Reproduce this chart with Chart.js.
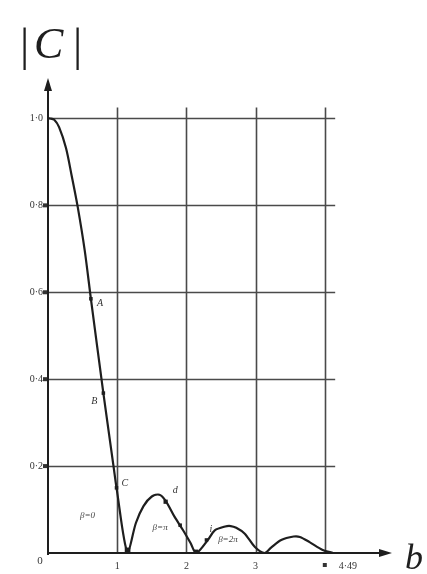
<!DOCTYPE html>
<html>
<head>
<meta charset="utf-8">
<script src="https://cdn.jsdelivr.net/npm/chart.js@4.4.1/dist/chart.umd.min.js"></script>
<style>
  html, body { margin: 0; padding: 0; background: #fff; }
  canvas { display: block; }
</style>
</head>
<body>
<canvas id="grafico" width="427" height="574"></canvas>
<script>
// curva |C| em funcao de b
const curvaB = [0, 0.03, 0.09, 0.16, 0.26, 0.34, 0.43, 0.53, 0.62, 0.80, 0.95, 0.99, 1.15,
  1.27, 1.38, 1.50, 1.61, 1.70, 1.83, 1.95, 2.06, 2.14,
  2.31, 2.41, 2.56, 2.64, 2.72, 2.84, 2.99, 3.13,
  3.22, 3.37, 3.55, 3.64, 3.78, 3.97, 4.12];
const curvaC = [1.0, 1.0, 0.997, 0.98, 0.932, 0.87, 0.796, 0.697, 0.585, 0.368, 0.196, 0.15, 0,
  0.069, 0.108, 0.13, 0.134, 0.12, 0.083, 0.053, 0.023, 0,
  0.03, 0.052, 0.061, 0.062, 0.058, 0.045, 0.014, 0,
  0.012, 0.03, 0.038, 0.037, 0.025, 0.007, 0];

// pontos marcados
const pontosB = [0.62, 0.80, 0.99, 1.15, 1.70, 1.91, 2.14, 2.29];
const pontosC = [0.585, 0.368, 0.15, 0.006, 0.118, 0.064, 0.003, 0.03];
const pontosNome = ["A", "B", "C", "", "d", "", "", "i"];

// escalas
const gradeX = [1, 2, 3, 4];
const gradeY = [0.2, 0.4, 0.6, 0.8, 1.0];
const rotulosX = ["1", "2", "3", ""];
const rotulosY = ["0·2", "0·4", "0·6", "0·8", "1·0"];

// textos das curvas
const textosB = [0.57, 1.62, 2.6];
const textosC = [0.085, 0.058, 0.03];
const textos = ["β=0", "β=π", "β=2π"];

const tinta = "#1e1e1e";
const serif = "'Liberation Serif', 'DejaVu Serif', serif";

const desenhoPapel = {
  id: "papel",
  beforeDatasetsDraw(chart) {
    const { ctx, scales: { x, y } } = chart;
    const x0 = x.getPixelForValue(0), y0 = y.getPixelForValue(0);
    ctx.save();
    // grade
    ctx.strokeStyle = "#4a4a4a";
    ctx.lineWidth = 1.6;
    gradeY.forEach(v => {
      const py = Math.round(y.getPixelForValue(v)) + 0.5;
      ctx.beginPath();
      ctx.moveTo(x0, py);
      ctx.lineTo(x.getPixelForValue(4.15), py);
      ctx.stroke();
    });
    gradeX.forEach(v => {
      const px = Math.round(x.getPixelForValue(v)) + 0.5;
      ctx.beginPath();
      ctx.moveTo(px, y0);
      ctx.lineTo(px, y.getPixelForValue(1.025));
      ctx.stroke();
    });
    // eixos
    ctx.strokeStyle = tinta;
    ctx.fillStyle = tinta;
    ctx.lineWidth = 2;
    const topo = chart.chartArea.top + 3;
    const dir = chart.chartArea.right - 2;
    ctx.beginPath();
    ctx.moveTo(x0, y0 + 2);
    ctx.lineTo(x0, topo + 8);
    ctx.moveTo(x0 - 1, y0);
    ctx.lineTo(dir - 8, y0);
    ctx.stroke();
    ctx.beginPath();
    ctx.moveTo(x0, topo);
    ctx.lineTo(x0 - 4, topo + 13);
    ctx.lineTo(x0 + 4, topo + 13);
    ctx.closePath();
    ctx.fill();
    ctx.beginPath();
    ctx.moveTo(dir, y0);
    ctx.lineTo(dir - 13, y0 - 4);
    ctx.lineTo(dir - 13, y0 + 4);
    ctx.closePath();
    ctx.fill();
    // rotulos
    ctx.font = "10px " + serif;
    ctx.fillStyle = "#333";
    ctx.textAlign = "right";
    ctx.textBaseline = "middle";
    gradeY.forEach((v, i) => {
      ctx.fillText(rotulosY[i], x0 - 5, y.getPixelForValue(v));
      if (i < 4) ctx.fillRect(x0 - 5, y.getPixelForValue(v) - 2, 4, 4);
    });
    ctx.textAlign = "center";
    ctx.textBaseline = "top";
    gradeX.forEach((v, i) => {
      ctx.fillText(rotulosX[i], x.getPixelForValue(v), y0 + 8);
    });
    ctx.font = "11px " + serif;
    ctx.fillText("0", x0 - 8, y0 + 3);
    ctx.font = "10px " + serif;
    ctx.fillRect(x.getPixelForValue(4) - 2, y0 + 10, 4, 4);
    ctx.textAlign = "left";
    ctx.fillText("4·49", x.getPixelForValue(4.2), y0 + 8);
    // titulos dos eixos
    ctx.fillStyle = tinta;
    ctx.textBaseline = "alphabetic";
    ctx.font = "46px " + serif;
    ctx.fillText("|", 20, 60);
    ctx.fillText("|", 73, 60);
    ctx.font = "italic 44px " + serif;
    ctx.fillText("C", 34, 58);
    ctx.font = "italic 36px " + serif;
    ctx.fillText("b", 405, 569);
    // textos das curvas
    ctx.font = "italic 9px " + serif;
    ctx.fillStyle = "#444";
    ctx.textAlign = "center";
    ctx.textBaseline = "middle";
    textos.forEach((t, i) => {
      ctx.fillText(t, x.getPixelForValue(textosB[i]), y.getPixelForValue(textosC[i]));
    });
    ctx.restore();
  },
  afterDatasetsDraw(chart) {
    const { ctx, scales: { x, y } } = chart;
    ctx.save();
    ctx.font = "italic 10px " + serif;
    ctx.fillStyle = "#333";
    ctx.textBaseline = "middle";
    const desloc = { A: [6, 5], B: [-12, 8], C: [5, -4], d: [7, -11], i: [3, -11] };
    pontosNome.forEach((n, i) => {
      if (!n) return;
      const px = x.getPixelForValue(pontosB[i]) + desloc[n][0];
      const py = y.getPixelForValue(pontosC[i]) + desloc[n][1];
      ctx.fillText(n, px, py);
    });
    ctx.restore();
  }
};

new Chart(document.getElementById("grafico"), {
  type: "scatter",
  data: {
    datasets: [
      {
        data: curvaB.map((b, i) => ({ x: b, y: curvaC[i] })),
        showLine: true,
        borderColor: tinta,
        borderWidth: 2.2,
        pointRadius: 0,
        tension: 0.3
      },
      {
        data: pontosB.map((b, i) => ({ x: b, y: pontosC[i] })),
        showLine: false,
        pointStyle: "rect",
        pointRadius: [2.5, 2.5, 2.5, 4, 3, 2.5, 3, 2.5],
        backgroundColor: tinta,
        borderColor: tinta,
        borderWidth: 0
      }
    ]
  },
  options: {
    responsive: false,
    animation: false,
    devicePixelRatio: 1,
    layout: { padding: { left: 48, right: 33, top: 75, bottom: 21 } },
    scales: {
      x: { type: "linear", min: 0, max: 5, display: false },
      y: { type: "linear", min: 0, max: 1.1, display: false }
    },
    plugins: {
      legend: { display: false },
      tooltip: { enabled: false }
    }
  },
  plugins: [desenhoPapel]
});
</script>
</body>
</html>
